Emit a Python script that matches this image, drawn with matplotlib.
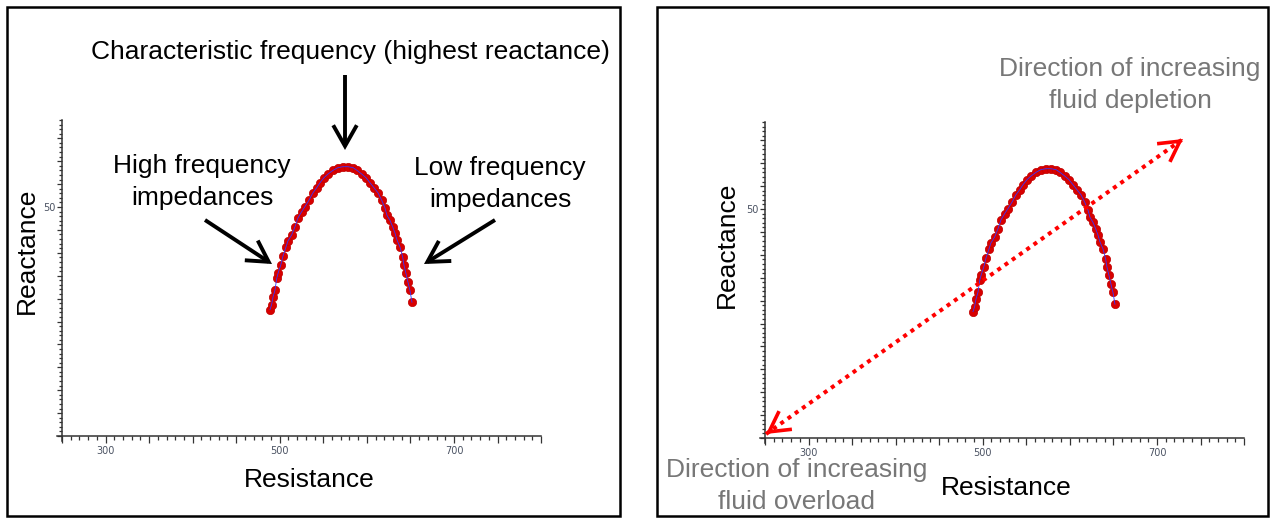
import matplotlib
matplotlib.use('Agg')
import numpy as np
import matplotlib.pyplot as plt
from matplotlib.patches import Rectangle, FancyArrowPatch
from matplotlib.lines import Line2D
from matplotlib.ticker import FuncFormatter

plt.rcParams['font.family'] = ['Liberation Sans', 'DejaVu Sans']

# ---------------- data ----------------
resistance = [488.8, 490.7, 492.2, 494.5, 496.5, 498.0, 501.1, 503.7, 507.2, 509.4,
              513.7, 517.5, 520.9, 525.2, 529.0, 533.6, 538.1, 542.4, 546.2, 550.8,
              555.4, 561.1, 566.8, 572.6, 578.3, 584.1, 588.7, 594.1, 599.0, 603.6,
              608.2, 612.8, 617.0, 620.8, 623.1, 626.5, 629.6, 632.3, 634.6, 638.0,
              641.1, 642.6, 644.9, 647.2, 649.5, 651.8]
reactance = [27.6, 28.7, 30.3, 31.8, 34.4, 35.5, 37.3, 39.3, 41.3, 42.6,
             43.9, 45.7, 47.6, 49.0, 50.1, 51.5, 53.1, 54.2, 55.3, 56.4,
             57.2, 58.0, 58.6, 58.8, 58.8, 58.6, 58.0, 57.2, 56.4, 55.3,
             54.2, 53.1, 51.5, 49.8, 48.2, 47.1, 45.7, 44.3, 42.8, 41.3,
             39.1, 37.3, 35.5, 33.6, 31.8, 29.2]

x_tick_values = [300, 500, 700]
x_tick_labels = ['300', '500', '700']
y_tick_values = [50]
y_tick_labels = ['50']
x_label = 'Resistance'
y_label = 'Reactance'

# ---------------- layout ----------------
W, H = 1271, 518
fig = plt.figure(figsize=(W / 100, H / 100), dpi=100)


def fx(px):
    return px / W


def fy(py):
    return 1 - py / H


X0, X1 = 244, 800
Y0, Y1 = -1.2, 69
XORG = 250
PX_PER_X = 0.871
PX_PER_Y = 4.58
AXIS_C = '#333333'
TICK_C = '#4a5262'


def make_axes(ox, oy):
    left = ox - (XORG - X0) * PX_PER_X
    right = ox + (X1 - XORG) * PX_PER_X
    bottom = oy + (0 - Y0) * PX_PER_Y
    top = oy - Y1 * PX_PER_Y
    ax = fig.add_axes([left / W, 1 - bottom / H, (right - left) / W, (bottom - top) / H])
    ax.set_xlim(X0, X1)
    ax.set_ylim(Y0, Y1)
    ax.patch.set_visible(False)
    for s in ['top', 'right']:
        ax.spines[s].set_visible(False)
    ax.spines['left'].set_position(('data', XORG))
    ax.spines['bottom'].set_position(('data', 0))
    for s in ['left', 'bottom']:
        ax.spines[s].set_color(AXIS_C)
        ax.spines[s].set_linewidth(1.1)
    ax.set_xticks(np.arange(250, 801, 50))
    ax.set_xticks(np.arange(250, 801, 10), minor=True)
    ax.set_yticks(np.arange(0, 69, 5))
    ax.set_yticks(np.arange(0, 70, 1), minor=True)
    xl = dict(zip(x_tick_values, x_tick_labels))
    yl = dict(zip(y_tick_values, y_tick_labels))
    ax.xaxis.set_major_formatter(FuncFormatter(lambda v, p: xl.get(int(round(v)), '')))
    ax.yaxis.set_major_formatter(FuncFormatter(lambda v, p: yl.get(int(round(v)), '')))
    ax.tick_params(axis='x', which='major', length=5, width=0.9, color=AXIS_C,
                   labelsize=7, labelcolor=TICK_C, pad=2)
    ax.tick_params(axis='x', which='minor', length=2.8, width=0.9, color=AXIS_C)
    ax.tick_params(axis='y', which='major', length=3.6, width=0.9, color=AXIS_C,
                   labelsize=7, labelcolor=TICK_C, pad=1)
    ax.tick_params(axis='y', which='minor', length=2.2, width=0.9, color=AXIS_C)
    for lab in ax.get_xticklabels() + ax.get_yticklabels():
        lab.set_family('DejaVu Sans')
    ax.plot(resistance, reactance, 'o', ms=6, mfc='#d80000', mec='#c00000',
            mew=0.5, zorder=2)
    ax.plot(resistance, reactance, '-', color='#3535ff', lw=0.6, zorder=3)
    return ax


ax1 = make_axes(62, 436)
ax2 = make_axes(765, 438)

# panel borders
for (l, t, r, b) in [(7, 7, 620, 516), (657, 7, 1268, 516)]:
    fig.add_artist(Rectangle((fx(l), fy(b)), (r - l) / W, (b - t) / H,
                             transform=fig.transFigure, fill=False,
                             lw=1.8, ec='black'))

FS = 19
LS = 1.45

# axis titles
fig.text(fx(27), fy(251), y_label, rotation=90, ha='center', va='center', fontsize=FS)
fig.text(fx(309), fy(480), x_label, ha='center', va='center', fontsize=FS)
fig.text(fx(727), fy(245), y_label, rotation=90, ha='center', va='center', fontsize=FS)
fig.text(fx(1006), fy(488), x_label, ha='center', va='center', fontsize=FS)

# left annotations
fig.text(fx(350), fy(52), 'Characteristic frequency (highest reactance)',
         ha='center', va='center', fontsize=FS)
fig.text(fx(202), fy(182), 'High frequency\nimpedances', ha='center', va='center',
         multialignment='center', fontsize=FS, linespacing=LS)
fig.text(fx(500), fy(184), 'Low frequency\nimpedances', ha='center', va='center',
         multialignment='center', fontsize=FS, linespacing=LS)


def arrow(p0, p1, color, lw, style):
    a = FancyArrowPatch((fx(p0[0]), fy(p0[1])), (fx(p1[0]), fy(p1[1])),
                        transform=fig.transFigure, arrowstyle=style,
                        mutation_scale=10, lw=lw, color=color,
                        shrinkA=0, shrinkB=0, capstyle='butt', joinstyle='miter')
    fig.add_artist(a)


BLACK_HEAD = '->,head_length=1.5,head_width=0.85'
arrow((345, 75), (345, 150), 'black', 2.8, BLACK_HEAD)
arrow((205, 220), (272, 264), 'black', 2.8, BLACK_HEAD)
arrow((495, 220), (424, 264), 'black', 2.8, BLACK_HEAD)

# right panel: fluid direction arrow
GREY = '#777777'
fig.text(fx(1130), fy(85), 'Direction of increasing\nfluid depletion', ha='center',
         va='center', multialignment='center', fontsize=FS, color=GREY, linespacing=LS)
fig.text(fx(797), fy(486), 'Direction of increasing\nfluid overload', ha='center',
         va='center', multialignment='center', fontsize=FS, color=GREY, linespacing=LS)

pA = np.array([766.0, 434.0])
pB = np.array([1183.0, 139.0])
fig.add_artist(Line2D([fx(pA[0]), fx(pB[0])], [fy(pA[1]), fy(pB[1])],
                      transform=fig.transFigure, color='red', lw=2.9,
                      linestyle=(0, (1, 1.2))))
u = (pB - pA) / np.linalg.norm(pB - pA)
RED_HEAD = '->,head_length=1.45,head_width=0.8'
arrow(pA + 8 * u, pA, 'red', 2.6, RED_HEAD)
arrow(pB - 8 * u, pB, 'red', 2.6, RED_HEAD)

fig.savefig('out.png', dpi=100)
